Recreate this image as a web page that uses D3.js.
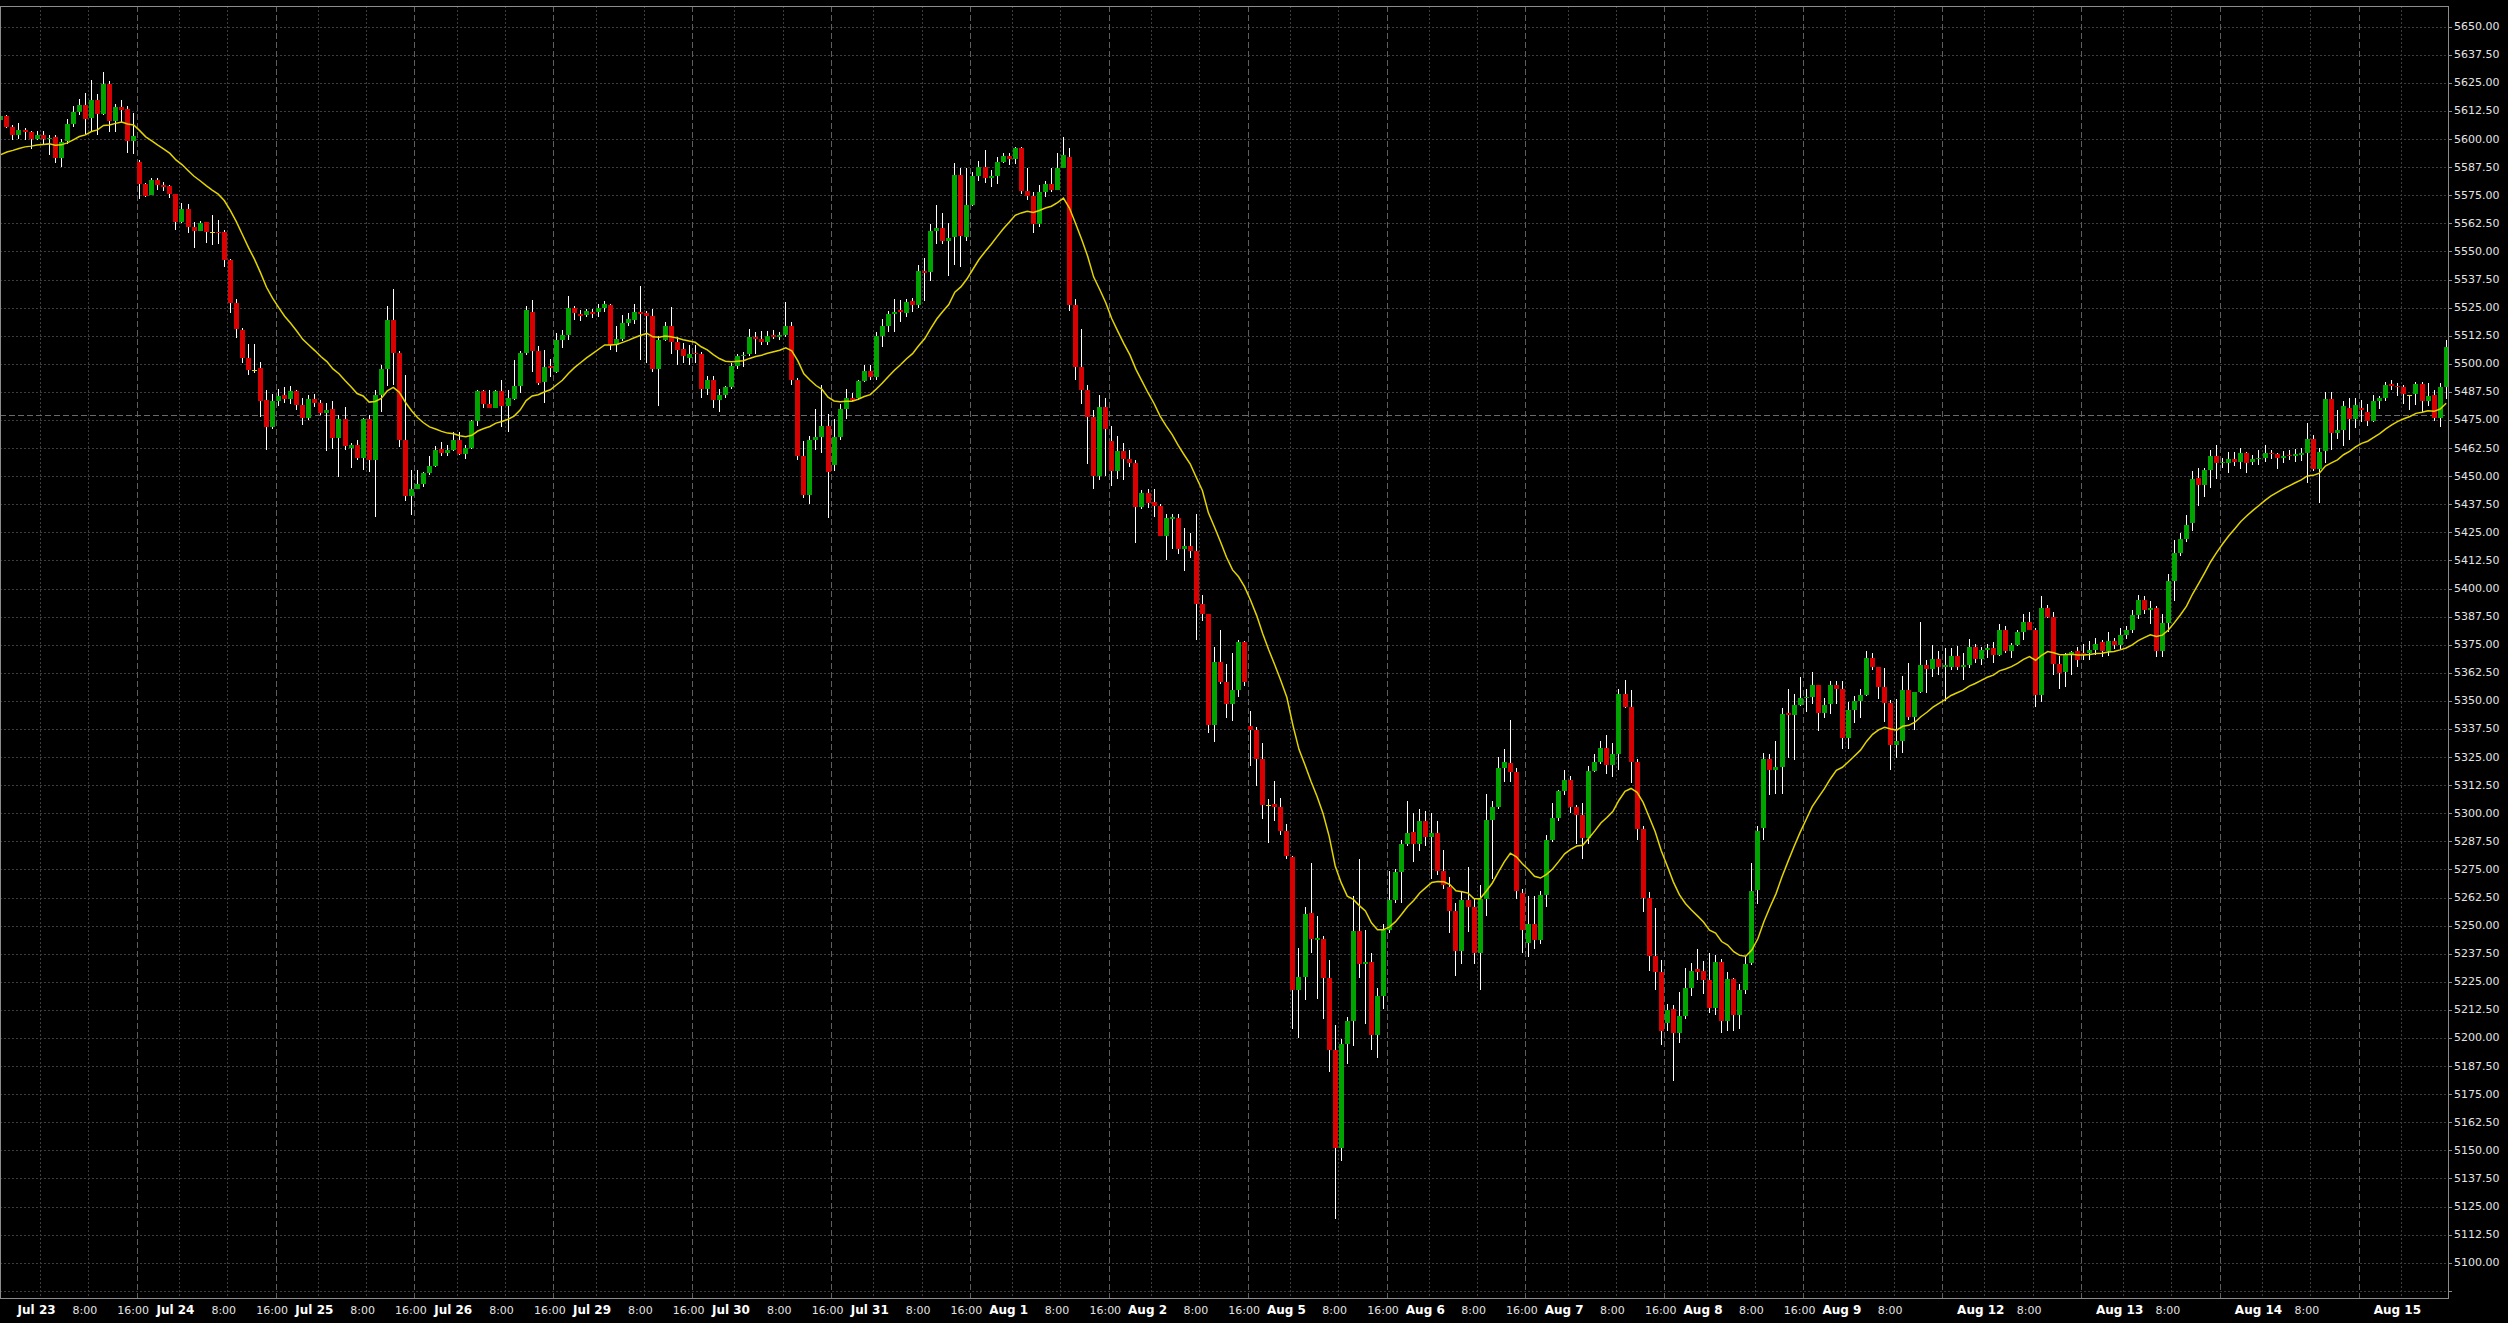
<!DOCTYPE html>
<html><head><meta charset="utf-8">
<script src="https://cdn.jsdelivr.net/npm/d3@7"></script>
<style>html,body{margin:0;padding:0;background:#000;overflow:hidden}</style>
</head><body>
<svg id="chart" width="2508" height="1323"></svg>
<script>
// ---------- DATA (hourly bars: [open, high, low, close]) ----------
const bars = [
[5608.5,5612.25,5607.5,5610.25],[5610.25,5610.75,5604.75,5605.5],[5605.5,5606.25,5599.5,5601.75],[5601.75,5607,5600.25,5604],[5604.25,5604.75,5599.5,5603.25],
[5603.25,5603.75,5595.5,5600],[5600,5603.5,5599.5,5601.75],[5601.75,5603.5,5597.25,5600],[5600,5601.75,5592.75,5600.5],[5601,5601.75,5589.25,5591.75],
[5591.75,5600,5587.75,5598.75],[5599,5608.75,5598,5606.75],[5606.75,5614.5,5605.5,5612.25],[5612.25,5618,5610.75,5615.25],[5615.25,5620.5,5601.75,5609],
[5609.5,5626.25,5603.25,5617.5],[5617.5,5620.25,5601.75,5611],[5611,5629.75,5610.75,5624.5],[5624.5,5625.75,5603.25,5608],[5608,5615.5,5603.25,5614.25],
[5614.25,5617.5,5607.75,5613],[5613.25,5614.5,5594,5599],[5599,5611.75,5593.5,5601.5],[5590,5590.75,5573.25,5580],[5580,5580.25,5574.25,5574.75],
[5575,5582.75,5575,5581.75],[5581.75,5582.75,5577.25,5579.5],[5579.5,5580.75,5577,5578.75],[5579.25,5579.5,5573.75,5575.5],[5575.5,5575.75,5559.75,5563.25],
[5563.25,5571.5,5562.5,5569],[5569,5571.25,5558,5561],[5561,5563.25,5551.5,5559],[5559,5563.5,5559,5562.5],[5563,5563,5553.75,5558.75],
[5558.5,5566,5553,5558.5],[5558.5,5564,5553.5,5558],[5558.75,5559.5,5543.25,5546],[5546,5546.5,5522.5,5527],[5527,5528.75,5511.5,5515.5],
[5515,5516,5500.25,5502.75],[5502.5,5509,5495,5497.25],[5497.25,5509,5495.75,5497.25],[5498,5501,5476.5,5483.5],[5484,5488.5,5461.75,5472],
[5472,5486.75,5471,5483.25],[5483.25,5489,5481,5485.75],[5486,5489.75,5482.5,5484.25],[5484.25,5490,5482,5488],[5488,5488.25,5479.5,5481.75],
[5481.75,5484.75,5472.75,5475.75],[5475.75,5486,5475,5484.25],[5484.25,5486.75,5480.75,5482.5],[5482.5,5484,5477.25,5478.25],[5478.25,5482.5,5461,5479.5],
[5479.75,5483.25,5462,5467],[5467,5477.25,5449.75,5475.25],[5475.25,5480.75,5461.75,5463.25],[5462.75,5464.75,5453.75,5464],[5464,5466,5457,5458],
[5458,5475.75,5452.75,5475.25],[5475.25,5477.25,5452,5457],[5457,5488.25,5432,5486],[5486,5499.5,5478.75,5497.5],[5497.5,5525.5,5490,5519.5],
[5519.5,5533.5,5490.5,5504.75],[5505,5505.5,5463,5466],[5466,5495,5438.75,5441.25],[5441.25,5452.75,5432.75,5444.5],[5444.5,5452.75,5444.5,5446.5],
[5446.5,5452,5445,5451.25],[5451.25,5458.75,5450.5,5454.5],[5454.5,5463.5,5454.25,5461.75],[5462,5465.25,5458.75,5460.25],[5460.25,5463.75,5458.75,5461.75],
[5461.75,5469.5,5461.25,5466],[5466,5469.75,5459.5,5460],[5460,5464,5457.5,5462.75],[5462.75,5475,5462.25,5474.75],[5474.75,5488.25,5472.25,5488],
[5488,5488.25,5480.25,5482],[5482,5488.25,5480.25,5480.5],[5480.5,5488.25,5480.25,5488],[5488,5492.75,5472,5481.25],[5481.25,5488.25,5469.75,5484.75],
[5484.25,5501.75,5484,5490],[5490,5505.5,5487,5504.75],[5504.75,5525.5,5503.75,5523.75],[5523.25,5528.5,5496.5,5505.5],[5505.5,5507.75,5490.5,5491.5],
[5492,5506,5482.5,5498.75],[5499,5502,5494,5498],[5496.5,5513.5,5496,5510.5],[5510.5,5515,5507,5512.75],[5512.75,5530.25,5510.5,5524.75],
[5524.75,5525.5,5519.5,5522.5],[5522.25,5524,5519,5521.25],[5521.75,5524.25,5521,5523.5],[5523.25,5524.5,5520.5,5522.25],[5523.25,5526.75,5521,5525],
[5525,5528,5523,5526.5],[5526.25,5526.5,5506,5508.25],[5508.25,5516.75,5505.25,5511],[5511,5521.75,5510,5518.25],[5518.25,5522.75,5517,5519.75],
[5519.5,5526.5,5517.75,5523],[5523,5534.5,5501.5,5522.25],[5522.5,5523.5,5500.5,5521.25],[5521.25,5524.5,5496.5,5497.5],[5497.5,5512.5,5481,5510.5],
[5510.5,5518.75,5510,5516.75],[5516.75,5525.25,5504.25,5509.75],[5509.75,5512,5499.5,5506.25],[5506.75,5509.25,5500.5,5503.25],[5502.75,5508.25,5499.5,5504.25],
[5504.75,5508.5,5500.5,5504.25],[5504.25,5505.25,5485,5488.75],[5488.75,5494.5,5486,5492.75],[5492.75,5494.5,5480.25,5484],[5484,5488.75,5478.75,5486],
[5486,5490.25,5485,5489.5],[5489.5,5500.5,5488.75,5499],[5499,5504.25,5497.5,5503.25],[5503.25,5505.25,5498.75,5503.75],[5504.25,5515.5,5503.25,5512],
[5512,5514,5504.25,5511],[5511,5514.75,5508.5,5509.75],[5509.75,5514.75,5508.25,5512.5],[5513,5515,5511,5512],[5512,5514,5510.5,5512.75],
[5512.75,5527.5,5512,5516.75],[5516.75,5518.75,5490.5,5492.75],[5492.75,5493.75,5457,5459],[5459,5465.75,5440.5,5441.5],[5441.5,5467.75,5437.75,5466],
[5466,5480,5461.75,5467.25],[5467.25,5490.75,5460.25,5472.5],[5472.5,5477.75,5431.25,5451.75],[5455,5475.25,5452.25,5467.5],[5467.5,5482,5466,5480],
[5480,5488.75,5475.25,5485],[5485,5487,5483.5,5484],[5485,5493,5484,5492.25],[5492.25,5499.5,5491.75,5497],[5497,5499.5,5492.75,5494.25],
[5494.25,5514,5492.75,5512.5],[5512.5,5519.75,5507.25,5517],[5517,5523.5,5514,5522.25],[5522.25,5528.75,5514,5523],[5524,5528.25,5518.75,5523],
[5522.5,5529,5520.75,5527.5],[5527.75,5529.25,5523.25,5526],[5526,5543.75,5525,5541.25],[5541.25,5547,5527.75,5540.5],[5540.75,5562.25,5537,5559.25],
[5559.25,5570.75,5553.5,5560.25],[5560.25,5567,5553.5,5554.75],[5554.75,5562.75,5539,5556],[5556.5,5589.25,5543.75,5584],[5584,5587.25,5543,5556.75],
[5556.5,5587.25,5554.5,5570.75],[5570.75,5585.25,5570,5583.5],[5583.5,5590.25,5581.5,5587.5],[5587.5,5595,5580.5,5582.75],[5582.5,5586.25,5578.5,5583.75],
[5583.75,5592,5580,5590],[5590,5594,5589.25,5592.25],[5592.25,5594,5588.25,5591],[5591,5596.5,5589,5596],[5596,5596.5,5575.75,5577],
[5577,5587.25,5572.75,5574.75],[5574.75,5576.5,5558.25,5562.25],[5562.25,5579.5,5560.75,5576.5],[5576.5,5581.5,5574.25,5580],[5580,5587.25,5576.5,5577.5],
[5577.5,5594,5577.5,5587.25],[5587.25,5600.75,5587.25,5592.75],[5592,5596,5523.5,5526],[5526,5529,5492.75,5498.5],[5498.5,5515.5,5482,5488.5],
[5488.5,5490.75,5455.25,5476.25],[5476.25,5479.25,5444.5,5450.25],[5450.25,5486,5448.25,5480.75],[5480.75,5485,5450.25,5471],[5465.75,5472.5,5445.5,5452.25],
[5452.25,5467.75,5448.75,5461.25],[5461,5464.75,5448.25,5457.5],[5457.5,5461.75,5454.25,5456],[5456,5457,5420.25,5436.25],[5436.25,5444,5435.25,5442.5],
[5442.5,5444.5,5435.75,5438.25],[5438.5,5444.5,5432,5436.75],[5436.75,5437.75,5423.25,5423.5],[5423.5,5433,5412.5,5431.25],[5431,5433,5417.5,5431.75],
[5431.25,5433,5415.5,5417.5],[5417.5,5427,5407.75,5419],[5419,5424.75,5413.5,5416.5],[5416.5,5433,5377,5393.25],[5393.25,5397.25,5385.5,5388.5],
[5388.5,5388.5,5335.5,5339.25],[5339.25,5374,5331.5,5367.5],[5367.5,5381.75,5357.5,5358.5],[5358.5,5366.25,5342.25,5348.5],[5348.5,5371.25,5341.25,5354.75],
[5354.75,5377.25,5351.75,5376],[5376,5376.75,5356.5,5358.25],[5339,5345.5,5321,5337],[5337,5338.5,5312.25,5324],[5324,5331.25,5297.5,5303.5],
[5303.5,5306.25,5286.75,5303.5],[5304,5314.5,5296.75,5302.75],[5302.75,5307,5290.5,5292],[5292,5295,5279.5,5281],[5280.75,5281,5204,5221.5],
[5221.5,5240,5200,5227],[5227,5258.5,5217,5255.25],[5255.5,5277.75,5237.75,5244],[5243.75,5254.25,5217.5,5244.5],[5244,5245.5,5208.5,5226.5],
[5226.5,5234.5,5185,5194.5],[5194.5,5205.75,5119.25,5151.25],[5151.25,5199.75,5145.25,5197.25],[5197.25,5209.25,5188.5,5207.5],[5207.5,5263,5196.25,5247.5],
[5247.5,5279.5,5226.5,5232.75],[5232.75,5248.25,5206,5234],[5234,5238,5194.5,5201.25],[5201.25,5222.25,5191,5218.75],[5218.75,5250.75,5212.75,5248],
[5248,5274.25,5246.5,5261.5],[5261.5,5275,5260.25,5274],[5274,5288,5260.25,5286.25],[5286.25,5305.25,5285.5,5291.25],[5291.5,5300.25,5278.5,5286.25],
[5286.25,5301.75,5283,5296.5],[5296.5,5301,5285.5,5289.5],[5289.5,5300,5270.75,5291],[5291.25,5296.75,5272.5,5274.25],[5274.25,5283.75,5266.5,5268.25],
[5267.25,5271.5,5246.5,5256.5],[5256.5,5260.25,5227.5,5238.75],[5238.75,5265.5,5232.75,5261.5],[5261.5,5276,5247.25,5258.5],[5258.5,5262,5232.75,5238],
[5238,5268,5221.5,5262],[5262,5308.75,5254.25,5297],[5297,5305.5,5270.75,5302.75],[5302.75,5325.25,5301.75,5320],[5320,5328.75,5314,5322.75],
[5322.25,5341.5,5314,5318.5],[5318.5,5320,5262,5265.25],[5264.5,5266.5,5237.75,5248.25],[5242.25,5263,5236.25,5250.5],[5250.5,5263,5239.5,5243.5],
[5243.5,5265.5,5242,5263.75],[5263.75,5290.5,5258.5,5288],[5288,5304.5,5287.25,5298],[5298,5310.5,5296.75,5309.75],[5309.75,5319.25,5308,5315],
[5315,5316.5,5300.25,5302.75],[5302.75,5303.5,5286.25,5299.25],[5299.25,5304.5,5279.5,5289],[5289,5321,5286.25,5319],[5319,5326.25,5318.25,5323],
[5323,5332.25,5321.75,5329.25],[5329.25,5334.75,5317.5,5321.25],[5321.25,5331.25,5316,5326.5],[5326.5,5355.5,5319.25,5353],[5353,5359.5,5346.75,5347.5],
[5347.5,5354.75,5313.25,5323],[5323,5324,5288,5293],[5293,5294.25,5256,5262.5],[5262.5,5264.75,5230,5236.5],[5236.5,5257.75,5221.5,5229.25],
[5229.25,5234.5,5196.75,5203],[5206.5,5215.25,5203.25,5212.5],[5212.75,5214.5,5180.75,5202],[5202,5220.5,5197.75,5209.75],[5210,5231,5208.5,5222.25],
[5222.25,5233.5,5218.75,5230],[5230.5,5239.5,5225.75,5229.25],[5230,5234.25,5219.75,5225.75],[5225.75,5237.75,5211,5213.25],[5213.25,5237,5210.25,5234],
[5234,5235.25,5202.25,5207.5],[5207.5,5229.25,5203.25,5226.25],[5226.25,5226.5,5203.25,5210.25],[5210.25,5224,5204,5221.5],[5221.5,5236.25,5219.75,5232.75],
[5233.5,5277.75,5232.5,5265.25],[5266,5294.25,5259.5,5292],[5293.5,5327,5288,5324],[5324,5326.5,5308,5319.25],[5319.25,5332.25,5308.75,5320.5],
[5320.5,5347,5308.75,5344.25],[5344.75,5355.5,5324.5,5343.5],[5343.5,5353,5323.5,5348],[5348,5360.75,5347.75,5351.25],[5351.25,5355.5,5345.25,5351.75],
[5351.75,5362.75,5348.5,5357.25],[5357.25,5357.25,5336.5,5344.75],[5344.75,5351.25,5342.5,5348],[5348.5,5359,5344.25,5357.25],[5357.25,5359,5348.75,5355.5],
[5355.25,5359,5328.75,5333.5],[5333.5,5349.5,5328.75,5346],[5346,5352,5340,5350],[5350,5355.5,5342.25,5352.75],[5352.75,5372,5352,5369],
[5369.25,5371.25,5363.75,5365.25],[5365.25,5365.25,5351,5356],[5356,5364.5,5340.75,5349],[5349,5350.5,5319.25,5330.5],[5330.5,5351,5324.5,5332],
[5332,5361,5327,5355],[5355,5366.75,5341.5,5343],[5343,5354,5337,5353.75],[5353.75,5385.25,5353.5,5366],[5366,5368.25,5353.5,5364],
[5364,5375,5360.75,5368.75],[5368.75,5372,5361.5,5365.25],[5365.25,5373.5,5349.75,5366],[5365.25,5373.5,5363.75,5370],[5370,5374.25,5363.75,5365],
[5365,5371.25,5359.25,5365.75],[5365.75,5377.5,5364.5,5374],[5374,5375.5,5366.75,5368.75],[5368.75,5374,5366,5372.5],[5372.5,5375.5,5369,5373.5],
[5373.5,5376,5367,5370.25],[5370.25,5384,5370,5381.75],[5381.75,5383.25,5371.25,5372],[5372,5375.75,5369.25,5375],[5375,5381.5,5374.25,5380.5],
[5380.5,5388.5,5377.25,5385.25],[5385.25,5389.5,5381.5,5381.75],[5381.75,5382.25,5347.5,5352.5],[5352.5,5396.5,5349.5,5391.25],[5391.25,5392.75,5386.75,5387.5],
[5387.5,5389.75,5361.5,5366.5],[5366.5,5369.75,5355.5,5362.5],[5363,5371.25,5356.25,5371],[5371,5372,5361.5,5371.75],[5372,5374,5365,5368],
[5371.5,5375.5,5368,5370.25],[5371.25,5376.75,5368.25,5372.75],[5372.75,5378,5370.5,5375.5],[5376,5377,5369.5,5372.25],[5372.25,5380.5,5370,5376.5],
[5376.5,5378,5373,5374.75],[5374.75,5382.5,5373.25,5379.25],[5379.25,5383.5,5377.5,5381.5],[5381.5,5390.25,5380,5388.25],[5388.25,5397.25,5386.5,5395],
[5395,5396.5,5388.5,5390.5],[5390.25,5394.5,5384,5391.25],[5391.25,5392,5369.5,5372],[5372,5388.5,5369.5,5384.5],[5384.5,5406.5,5380.5,5403.5],
[5403.5,5421.5,5394.5,5415.75],[5415.75,5424.5,5414.5,5422],[5422,5432.5,5420.5,5428.25],[5429,5452.25,5425.5,5448.75],[5449,5453.5,5436.75,5446],
[5446,5453.75,5440.75,5452.75],[5452.75,5461.75,5444.75,5458.75],[5458.75,5463.75,5448.75,5455.75],[5455.75,5458.25,5453.5,5456.25],[5456,5460.75,5451.5,5457.5],
[5457.5,5460.75,5454.5,5456.5],[5456.5,5462.5,5453,5460.5],[5460.5,5460.75,5451.5,5456],[5456.5,5459.5,5454.75,5457.5],[5457.5,5461.5,5455,5458],
[5458,5463.75,5456.5,5460.5],[5460.5,5461.75,5457.5,5460],[5460,5460.5,5453.25,5458],[5458,5461,5455.75,5459],[5459.5,5461.5,5457,5458.75],
[5459,5462.25,5456.5,5460],[5459.5,5462.75,5456.75,5460.5],[5460.5,5473.75,5447,5466.5],[5466.5,5468.25,5452.5,5453],[5453,5462.75,5438.25,5460.75],
[5461,5487.5,5455.75,5484.5],[5484.5,5487.5,5461.75,5469],[5469,5479.5,5466.5,5470.5],[5470.5,5483.5,5463.25,5481],[5480.5,5484.75,5466,5475.25],
[5475.25,5485,5471.5,5481.75],[5480.25,5484,5474.25,5479.5],[5478.75,5482,5472.5,5474.75],[5474.75,5486.25,5474,5483.5],[5483.5,5485.5,5480,5485],
[5485,5492,5483.5,5490.5],[5491,5492.75,5488.5,5490],[5490,5491.5,5485.5,5489.5],[5489.5,5490.5,5482,5486.5],[5486.25,5486.25,5479.5,5486.25],
[5486.5,5492,5481.75,5491],[5491,5492,5478.5,5483.25],[5483.25,5491.25,5481.25,5485.75],[5486,5488.5,5474.5,5476],[5476,5491.25,5472,5489.5],
[5489.5,5510.5,5484.25,5507.25]
];

// Session days shown on the time axis (one label per trading day)
const dayLabels = ["Jul 23","Jul 24","Jul 25","Jul 26","Jul 29","Jul 30","Jul 31","Aug 1","Aug 2",
  "Aug 5","Aug 6","Aug 7","Aug 8","Aug 9","Aug 12","Aug 13","Aug 14","Aug 15"];
const hourLabels = ["8:00","16:00"];
const hourOffsets = [8,16];
const lastDayWith16Label = "Aug 8";

// Price axis ticks
const priceTicks = [5650,5637.5,5625,5612.5,5600,5587.5,5575,5562.5,5550,5537.5,5525,5512.5,5500,5487.5,5475,
  5462.5,5450,5437.5,5425,5412.5,5400,5387.5,5375,5362.5,5350,5337.5,5325,5312.5,5300,5287.5,5275,5262.5,5250,
  5237.5,5225,5212.5,5200,5187.5,5175,5162.5,5150,5137.5,5125,5112.5,5100,5087.5];
const priceLabels = priceTicks.filter(p => p >= 5100);

const maPeriod = 20;          // exponential moving average of closes
const maStart = 5591.25;      // MA level just before the first visible bar
const refPrice = 5477;        // dashed horizontal reference line

// ---------- LAYOUT ----------
const W = 2508, H = 1323;
const plot = {left: 0, top: 6, right: 2448, bottom: 1298};
const firstSessionBar = 7, barsPerSession = 23;

const x = d3.scaleLinear().domain([0, 405]).range([0.85, 0.85 + 6.0378 * 405]);
const y = d3.scaleLinear().domain([5100, 5650]).range([1262.7, 26.7]);

const svg = d3.select("#chart").attr("font-family", "DejaVu Sans, sans-serif");
svg.append("rect").attr("width", W).attr("height", H).attr("fill", "#000");

svg.append("defs").append("clipPath").attr("id", "clip").append("rect")
  .attr("x", plot.left).attr("y", plot.top)
  .attr("width", plot.right - plot.left).attr("height", plot.bottom - plot.top);

const grid = svg.append("g").attr("clip-path", "url(#clip)");

// horizontal grid
grid.selectAll("line.hg").data(priceTicks).join("line").attr("class", "hg")
  .attr("x1", plot.left).attr("x2", plot.right)
  .attr("y1", d => Math.round(y(d)) + 0.5).attr("y2", d => Math.round(y(d)) + 0.5)
  .attr("stroke", "#3d3d3d").attr("stroke-width", 1).attr("stroke-dasharray", "2,2");

// vertical grid (session start, 8:00, 16:00 session boundary)
const vlines = [];
const xTicks = [];
dayLabels.forEach((lab, d) => {
  const b0 = firstSessionBar + barsPerSession * d;
  vlines.push({b: b0, major: false});
  xTicks.push({b: b0, text: lab, bold: true});
  hourOffsets.forEach((h, k) => {
    vlines.push({b: b0 + h, major: h === 16});
    const showLabel = (h === 8) || (d <= dayLabels.indexOf(lastDayWith16Label));
    if (showLabel) xTicks.push({b: b0 + h, text: hourLabels[k], bold: false});
  });
});
const vx = b => x(b - 0.5);
grid.selectAll("line.vg").data(vlines.filter(v => vx(v.b) > plot.left && vx(v.b) < plot.right - 1))
  .join("line").attr("class", "vg")
  .attr("x1", d => Math.round(vx(d.b)) + 0.5).attr("x2", d => Math.round(vx(d.b)) + 0.5)
  .attr("y1", plot.top).attr("y2", plot.bottom)
  .attr("stroke", d => d.major ? "#5e5e5e" : "#3d3d3d")
  .attr("stroke-dasharray", d => d.major ? "6,3" : "2,2");

// reference dashed line
grid.append("line")
  .attr("x1", plot.left).attr("x2", plot.right)
  .attr("y1", Math.round(y(refPrice)) + 0.5).attr("y2", Math.round(y(refPrice)) + 0.5)
  .attr("stroke", "#6a6a6a").attr("stroke-dasharray", "6,3");

// ---------- CANDLES ----------
const cg = svg.append("g").attr("clip-path", "url(#clip)");
const bodyW = 5;
const left = i => Math.round(x(i) - bodyW / 2);
const colorOf = b => b[3] > b[0] ? "#00a400" : (b[3] < b[0] ? "#d80000" : "#e8dc00");

cg.selectAll("rect.wick").data(bars).join("rect").attr("class", "wick")
  .attr("x", (d, i) => left(i) + 2).attr("width", 1)
  .attr("y", d => Math.round(y(d[1])))
  .attr("height", d => Math.max(1, Math.round(y(d[2])) - Math.round(y(d[1]))))
  .attr("fill", "#ffffff");

cg.selectAll("rect.body").data(bars).join("rect").attr("class", "body")
  .attr("x", (d, i) => left(i)).attr("width", bodyW)
  .attr("y", d => Math.round(y(Math.max(d[0], d[3]))))
  .attr("height", d => Math.max(1, Math.round(y(Math.min(d[0], d[3]))) - Math.round(y(Math.max(d[0], d[3])))))
  .attr("fill", colorOf);

// ---------- MOVING AVERAGE ----------
const alpha = 2 / (maPeriod + 1);
const ma = [];
let e = maStart;
bars.forEach(b => { e = e + alpha * (b[3] - e); ma.push(e); });
cg.append("path").datum(ma)
  .attr("d", d3.line().x((d, i) => x(i)).y(d => y(d)))
  .attr("fill", "none").attr("stroke", "#e2d400").attr("stroke-width", 1.5);

// ---------- FRAME & AXES ----------
svg.append("rect")
  .attr("x", plot.left + 0.5).attr("y", plot.top + 0.5)
  .attr("width", plot.right - plot.left).attr("height", plot.bottom - plot.top)
  .attr("fill", "none").attr("stroke", "#8c8c8c");

const ax = svg.append("g");
ax.selectAll("line.tk").data(priceTicks).join("line").attr("class", "tk")
  .attr("x1", plot.right).attr("x2", plot.right + 4)
  .attr("y1", d => Math.round(y(d)) + 0.5).attr("y2", d => Math.round(y(d)) + 0.5)
  .attr("stroke", "#8c8c8c");
ax.selectAll("text.pl").data(priceLabels).join("text").attr("class", "pl")
  .attr("x", plot.right + 6).attr("y", d => y(d))
  .attr("dominant-baseline", "central")
  .attr("font-size", 11).attr("fill", "#e4e4e4")
  .text(d3.format(".2f"));

ax.selectAll("text.xl").data(xTicks.filter(t => vx(t.b) < plot.right)).join("text").attr("class", "xl")
  .attr("x", d => vx(d.b) - 3.5).attr("y", 1310)
  .attr("text-anchor", "middle").attr("dominant-baseline", "central")
  .attr("font-size", d => d.bold ? 12 : 11)
  .attr("font-weight", d => d.bold ? "bold" : "normal")
  .attr("fill", d => d.bold ? "#ffffff" : "#e4e4e4")
  .text(d => d.text);
</script>
</body></html>
